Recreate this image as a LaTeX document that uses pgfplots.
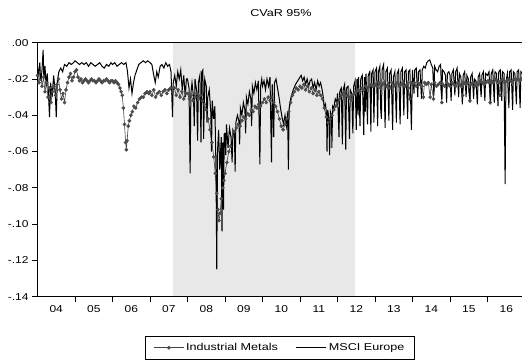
\documentclass[border=0pt]{standalone}
\usepackage{fontspec}
\setmainfont{Liberation Sans}[FakeStretch=1.2]
\newfontfamily\widefont{Liberation Sans}[FakeStretch=1.26]
\usepackage{pgfplots}
\pgfplotsset{compat=1.18}

% Industrial Metals, CVaR at 95%
\pgfplotstableread{
x y
2004.00 -0.018
2004.04 -0.022
2004.08 -0.016
2004.12 -0.024
2004.16 -0.019
2004.20 -0.027
2004.24 -0.022
2004.28 -0.030
2004.32 -0.025
2004.36 -0.033
2004.40 -0.027
2004.44 -0.024
2004.48 -0.029
2004.52 -0.023
2004.56 -0.020
2004.60 -0.026
2004.64 -0.031
2004.68 -0.028
2004.72 -0.033
2004.76 -0.026
2004.80 -0.022
2004.84 -0.019
2004.88 -0.017
2004.92 -0.021
2004.96 -0.019
2005.00 -0.016
2005.04 -0.015
2005.08 -0.019
2005.12 -0.021
2005.16 -0.020
2005.20 -0.022
2005.24 -0.021
2005.28 -0.020
2005.32 -0.021
2005.36 -0.022
2005.40 -0.021
2005.44 -0.020
2005.48 -0.021
2005.52 -0.021
2005.56 -0.022
2005.60 -0.021
2005.64 -0.020
2005.68 -0.021
2005.72 -0.022
2005.76 -0.021
2005.80 -0.021
2005.84 -0.020
2005.88 -0.021
2005.92 -0.022
2005.96 -0.021
2006.00 -0.021
2006.04 -0.022
2006.08 -0.021
2006.12 -0.022
2006.16 -0.023
2006.20 -0.025
2006.23 -0.027
2006.26 -0.029
2006.29 -0.036
2006.32 -0.045
2006.35 -0.055
2006.37 -0.059
2006.39 -0.054
2006.42 -0.046
2006.45 -0.043
2006.49 -0.040
2006.53 -0.038
2006.57 -0.035
2006.62 -0.036
2006.67 -0.033
2006.72 -0.031
2006.77 -0.030
2006.82 -0.030
2006.87 -0.028
2006.92 -0.027
2006.97 -0.028
2007.00 -0.027
2007.05 -0.029
2007.10 -0.026
2007.15 -0.030
2007.20 -0.028
2007.25 -0.027
2007.30 -0.029
2007.35 -0.027
2007.40 -0.026
2007.45 -0.028
2007.50 -0.026
2007.55 -0.025
2007.60 -0.027
2007.65 -0.025
2007.70 -0.029
2007.75 -0.026
2007.80 -0.030
2007.85 -0.027
2007.90 -0.031
2007.95 -0.028
2008.00 -0.028
2008.05 -0.031
2008.10 -0.029
2008.15 -0.032
2008.20 -0.030
2008.25 -0.028
2008.30 -0.031
2008.35 -0.029
2008.40 -0.032
2008.45 -0.034
2008.50 -0.037
2008.55 -0.042
2008.60 -0.048
2008.65 -0.055
2008.70 -0.063
2008.74 -0.072
2008.78 -0.083
2008.81 -0.092
2008.84 -0.098
2008.87 -0.094
2008.90 -0.086
2008.94 -0.080
2008.97 -0.076
2009.00 -0.072
2009.05 -0.066
2009.10 -0.060
2009.15 -0.057
2009.20 -0.052
2009.25 -0.049
2009.30 -0.047
2009.35 -0.045
2009.40 -0.046
2009.45 -0.043
2009.50 -0.041
2009.55 -0.042
2009.60 -0.039
2009.65 -0.040
2009.70 -0.037
2009.75 -0.038
2009.80 -0.035
2009.85 -0.036
2009.90 -0.034
2009.95 -0.035
2010.00 -0.033
2010.05 -0.031
2010.10 -0.033
2010.15 -0.030
2010.20 -0.032
2010.25 -0.030
2010.30 -0.033
2010.35 -0.035
2010.40 -0.038
2010.45 -0.042
2010.50 -0.046
2010.55 -0.048
2010.60 -0.045
2010.65 -0.042
2010.70 -0.038
2010.75 -0.033
2010.80 -0.029
2010.85 -0.027
2010.90 -0.025
2010.95 -0.026
2011.00 -0.024
2011.05 -0.025
2011.10 -0.023
2011.15 -0.026
2011.20 -0.024
2011.25 -0.027
2011.30 -0.025
2011.35 -0.028
2011.40 -0.026
2011.45 -0.029
2011.50 -0.027
2011.55 -0.029
2011.60 -0.031
2011.65 -0.036
2011.70 -0.041
2011.75 -0.044
2011.80 -0.042
2011.85 -0.040
2011.90 -0.037
2011.95 -0.035
2012.00 -0.033
2012.05 -0.031
2012.10 -0.029
2012.15 -0.028
2012.20 -0.027
2012.25 -0.029
2012.30 -0.030
2012.35 -0.031
2012.40 -0.029
2012.45 -0.028
2012.50 -0.027
2012.55 -0.026
2012.60 -0.027
2012.65 -0.025
2012.70 -0.026
2012.75 -0.024
2012.80 -0.025
2012.85 -0.024
2012.90 -0.023
2012.95 -0.024
2013.00 -0.023
2013.05 -0.024
2013.10 -0.022
2013.15 -0.025
2013.20 -0.023
2013.25 -0.022
2013.30 -0.024
2013.35 -0.023
2013.40 -0.025
2013.45 -0.022
2013.50 -0.024
2013.55 -0.023
2013.60 -0.022
2013.65 -0.024
2013.70 -0.023
2013.75 -0.022
2013.80 -0.024
2013.85 -0.023
2013.89 -0.025
2013.93 -0.031
2013.96 -0.022
2014.00 -0.023
2014.05 -0.022
2014.10 -0.024
2014.15 -0.022
2014.20 -0.023
2014.25 -0.024
2014.29 -0.030
2014.32 -0.022
2014.37 -0.023
2014.42 -0.022
2014.47 -0.030
2014.50 -0.023
2014.56 -0.031
2014.59 -0.022
2014.64 -0.024
2014.69 -0.023
2014.74 -0.022
2014.78 -0.033
2014.81 -0.023
2014.86 -0.024
2014.91 -0.022
2014.96 -0.023
2015.00 -0.024
2015.05 -0.022
2015.10 -0.023
2015.15 -0.024
2015.20 -0.022
2015.25 -0.023
2015.30 -0.024
2015.34 -0.029
2015.37 -0.022
2015.42 -0.023
2015.47 -0.022
2015.53 -0.032
2015.56 -0.023
2015.61 -0.022
2015.66 -0.024
2015.71 -0.022
2015.76 -0.023
2015.81 -0.021
2015.86 -0.022
2015.91 -0.023
2015.96 -0.022
2016.01 -0.021
2016.04 -0.022
2016.07 -0.033
2016.10 -0.021
2016.15 -0.022
2016.20 -0.020
2016.25 -0.021
2016.30 -0.022
2016.33 -0.029
2016.36 -0.021
2016.41 -0.020
2016.46 -0.022
2016.51 -0.021
2016.56 -0.020
2016.61 -0.021
2016.66 -0.022
2016.71 -0.020
2016.76 -0.021
2016.81 -0.020
2016.86 -0.021
2016.91 -0.020
2016.96 -0.021
}\metals

% MSCI Europe, CVaR at 95%
\pgfplotstableread{
x y
2004.00 -0.013
2004.03 -0.019
2004.06 -0.011
2004.09 -0.021
2004.12 -0.015
2004.15 -0.004
2004.17 -0.020
2004.20 -0.013
2004.23 -0.024
2004.26 -0.017
2004.29 -0.027
2004.32 -0.041
2004.35 -0.022
2004.39 -0.030
2004.43 -0.018
2004.47 -0.026
2004.50 -0.041
2004.53 -0.021
2004.57 -0.016
2004.62 -0.014
2004.67 -0.016
2004.72 -0.012
2004.78 -0.013
2004.84 -0.011
2004.90 -0.012
2004.96 -0.011
2005.00 -0.010
2005.06 -0.011
2005.12 -0.012
2005.18 -0.011
2005.24 -0.012
2005.30 -0.011
2005.36 -0.013
2005.42 -0.011
2005.48 -0.012
2005.54 -0.013
2005.60 -0.012
2005.66 -0.011
2005.72 -0.013
2005.78 -0.014
2005.84 -0.012
2005.90 -0.013
2005.96 -0.011
2006.00 -0.012
2006.06 -0.011
2006.12 -0.013
2006.18 -0.012
2006.24 -0.011
2006.30 -0.012
2006.36 -0.011
2006.40 -0.016
2006.44 -0.025
2006.48 -0.020
2006.52 -0.028
2006.56 -0.022
2006.60 -0.018
2006.65 -0.015
2006.70 -0.012
2006.76 -0.011
2006.82 -0.010
2006.88 -0.011
2006.94 -0.010
2007.00 -0.011
2007.05 -0.012
2007.10 -0.018
2007.14 -0.022
2007.18 -0.016
2007.22 -0.019
2007.27 -0.013
2007.32 -0.012
2007.37 -0.014
2007.42 -0.011
2007.47 -0.013
2007.52 -0.012
2007.56 -0.016
2007.60 -0.041
2007.62 -0.022
2007.66 -0.018
2007.70 -0.024
2007.74 -0.016
2007.78 -0.020
2007.82 -0.015
2007.86 -0.026
2007.90 -0.018
2007.94 -0.030
2007.97 -0.020
2008.00 -0.020
2008.04 -0.025
2008.07 -0.072
2008.09 -0.028
2008.12 -0.022
2008.16 -0.030
2008.18 -0.046
2008.20 -0.020
2008.24 -0.026
2008.27 -0.054
2008.29 -0.022
2008.33 -0.018
2008.36 -0.055
2008.38 -0.016
2008.41 -0.015
2008.43 -0.053
2008.46 -0.020
2008.50 -0.024
2008.52 -0.044
2008.54 -0.030
2008.58 -0.026
2008.62 -0.038
2008.64 -0.060
2008.66 -0.032
2008.70 -0.042
2008.73 -0.035
2008.76 -0.070
2008.78 -0.125
2008.80 -0.060
2008.83 -0.048
2008.86 -0.070
2008.90 -0.052
2008.92 -0.104
2008.94 -0.055
2008.96 -0.092
2008.98 -0.050
2009.00 -0.050
2009.02 -0.062
2009.04 -0.045
2009.08 -0.058
2009.12 -0.047
2009.16 -0.052
2009.19 -0.066
2009.21 -0.048
2009.25 -0.050
2009.27 -0.071
2009.29 -0.044
2009.33 -0.040
2009.37 -0.043
2009.39 -0.056
2009.41 -0.036
2009.45 -0.040
2009.49 -0.033
2009.53 -0.037
2009.55 -0.050
2009.57 -0.030
2009.61 -0.034
2009.65 -0.027
2009.69 -0.031
2009.71 -0.046
2009.73 -0.024
2009.77 -0.028
2009.81 -0.022
2009.85 -0.026
2009.89 -0.021
2009.93 -0.067
2009.95 -0.024
2009.98 -0.020
2010.00 -0.024
2010.04 -0.021
2010.08 -0.026
2010.12 -0.020
2010.16 -0.024
2010.20 -0.019
2010.24 -0.066
2010.26 -0.023
2010.30 -0.052
2010.32 -0.022
2010.36 -0.020
2010.40 -0.025
2010.44 -0.030
2010.48 -0.036
2010.52 -0.041
2010.56 -0.045
2010.60 -0.040
2010.64 -0.046
2010.67 -0.038
2010.69 -0.070
2010.71 -0.036
2010.76 -0.030
2010.82 -0.026
2010.88 -0.023
2010.94 -0.021
2011.00 -0.019
2011.03 -0.018
2011.07 -0.021
2011.11 -0.019
2011.15 -0.023
2011.19 -0.020
2011.23 -0.024
2011.27 -0.021
2011.31 -0.020
2011.35 -0.025
2011.39 -0.022
2011.43 -0.026
2011.47 -0.021
2011.51 -0.024
2011.55 -0.022
2011.59 -0.026
2011.62 -0.030
2011.65 -0.036
2011.68 -0.034
2011.71 -0.040
2011.72 -0.060
2011.74 -0.037
2011.77 -0.042
2011.79 -0.062
2011.81 -0.038
2011.84 -0.040
2011.85 -0.058
2011.87 -0.035
2011.90 -0.036
2011.94 -0.031
2011.98 -0.033
2012.00 -0.028
2012.04 -0.052
2012.06 -0.027
2012.10 -0.025
2012.13 -0.056
2012.15 -0.026
2012.19 -0.023
2012.22 -0.059
2012.24 -0.025
2012.28 -0.024
2012.32 -0.053
2012.34 -0.026
2012.38 -0.028
2012.41 -0.050
2012.43 -0.024
2012.47 -0.021
2012.50 -0.048
2012.52 -0.020
2012.55 -0.040
2012.56 -0.019
2012.60 -0.046
2012.62 -0.020
2012.66 -0.018
2012.70 -0.051
2012.72 -0.019
2012.74 -0.038
2012.76 -0.017
2012.80 -0.045
2012.82 -0.018
2012.86 -0.016
2012.89 -0.049
2012.91 -0.017
2012.95 -0.015
2012.97 -0.044
2013.00 -0.016
2013.04 -0.014
2013.07 -0.046
2013.09 -0.016
2013.13 -0.013
2013.15 -0.036
2013.17 -0.042
2013.19 -0.015
2013.23 -0.012
2013.27 -0.047
2013.29 -0.016
2013.33 -0.014
2013.37 -0.043
2013.39 -0.017
2013.43 -0.015
2013.47 -0.048
2013.49 -0.019
2013.53 -0.016
2013.57 -0.044
2013.59 -0.017
2013.63 -0.015
2013.67 -0.045
2013.69 -0.016
2013.73 -0.014
2013.77 -0.040
2013.79 -0.016
2013.83 -0.015
2013.87 -0.042
2013.89 -0.016
2013.93 -0.015
2013.97 -0.048
2014.00 -0.015
2014.04 -0.028
2014.06 -0.015
2014.10 -0.014
2014.14 -0.030
2014.16 -0.016
2014.20 -0.015
2014.24 -0.031
2014.26 -0.015
2014.30 -0.013
2014.34 -0.014
2014.38 -0.011
2014.42 -0.010
2014.46 -0.0095
2014.50 -0.012
2014.54 -0.014
2014.57 -0.029
2014.59 -0.013
2014.63 -0.015
2014.67 -0.016
2014.71 -0.013
2014.75 -0.012
2014.78 -0.031
2014.80 -0.015
2014.84 -0.016
2014.88 -0.018
2014.91 -0.033
2014.93 -0.017
2014.97 -0.016
2015.00 -0.018
2015.03 -0.032
2015.05 -0.017
2015.09 -0.015
2015.13 -0.029
2015.15 -0.016
2015.19 -0.014
2015.23 -0.030
2015.25 -0.017
2015.29 -0.019
2015.33 -0.034
2015.35 -0.018
2015.39 -0.016
2015.43 -0.030
2015.45 -0.018
2015.49 -0.020
2015.53 -0.033
2015.55 -0.019
2015.59 -0.017
2015.63 -0.031
2015.65 -0.020
2015.69 -0.021
2015.73 -0.034
2015.75 -0.019
2015.79 -0.017
2015.83 -0.030
2015.85 -0.018
2015.89 -0.016
2015.93 -0.032
2015.95 -0.017
2016.00 -0.018
2016.04 -0.016
2016.08 -0.034
2016.10 -0.017
2016.14 -0.015
2016.18 -0.033
2016.20 -0.016
2016.24 -0.017
2016.28 -0.035
2016.30 -0.016
2016.34 -0.015
2016.38 -0.032
2016.40 -0.016
2016.44 -0.017
2016.47 -0.078
2016.49 -0.022
2016.53 -0.017
2016.57 -0.036
2016.59 -0.016
2016.63 -0.015
2016.67 -0.037
2016.69 -0.016
2016.73 -0.017
2016.77 -0.034
2016.79 -0.016
2016.83 -0.015
2016.87 -0.036
2016.89 -0.016
2016.93 -0.017
2016.96 -0.016
}\msci

\begin{document}
\begin{tikzpicture}
\path[use as bounding box] (0,0) rectangle (522pt,363pt);
\node[font=\widefont\fontsize{10}{12}\selectfont] at (281pt,349.5pt) {CVaR 95\%};
\begin{axis}[
  at={(37.5pt,66.3pt)}, anchor=south west,
  scale only axis, width=486.5pt, height=254pt,
  xmin=2004, xmax=2016.973, ymin=-0.14, ymax=0,
  axis on top,
  axis line style={line width=0.9pt},
  tick align=outside,
  major tick length=0pt, minor tick length=5.5pt,
  tick style={line width=0.7pt, black},
  xtick pos=bottom, ytick pos=left,
  xtick={2004.5,2005.5,2006.5,2007.5,2008.5,2009.5,2010.5,2011.5,2012.5,2013.5,2014.5,2015.5,2016.5},
  xticklabels={04,05,06,07,08,09,10,11,12,13,14,15,16},
  minor xtick={2005,2006,2007,2008,2009,2010,2011,2012,2013,2014,2015,2016},
  ytick={-0.14,-0.12,-0.10,-0.08,-0.06,-0.04,-0.02,0},
  yticklabels={-.14,-.12,-.10,-.08,-.06,-.04,-.02,.00},
  minor ytick={-0.14,-0.12,-0.10,-0.08,-0.06,-0.04,-0.02,0},
  ticklabel style={font=\fontsize{10}{12}\selectfont},
  xticklabel style={yshift=-5.5pt},
  yticklabel style={xshift=-5.5pt},
  legend columns=2,
  legend style={at={(0.4985,-0.155)}, anchor=north, draw=black, line width=0.6pt,
    font=\widefont\fontsize{10}{12}\selectfont, inner xsep=8pt, inner ysep=5pt,
    /tikz/every even column/.append style={column sep=16pt}},
  legend image code/.code={\draw[mark repeat=2,mark phase=2,#1] plot coordinates {(0pt,0pt) (15pt,0pt) (30pt,0pt)};},
]
\fill[black!9] (axis cs:2007.605,-0.14) rectangle (axis cs:2012.467,0);
\addplot[black!75, line width=0.6pt, mark=*, mark size=1.5pt,
  mark options={fill=black!70, draw=black!70}] table[x=x,y=y] {\metals};
\addlegendentry{Industrial Metals}
\addplot[black, line width=1pt] table[x=x,y=y] {\msci};
\addlegendentry{MSCI Europe}
\end{axis}
\end{tikzpicture}
\end{document}
